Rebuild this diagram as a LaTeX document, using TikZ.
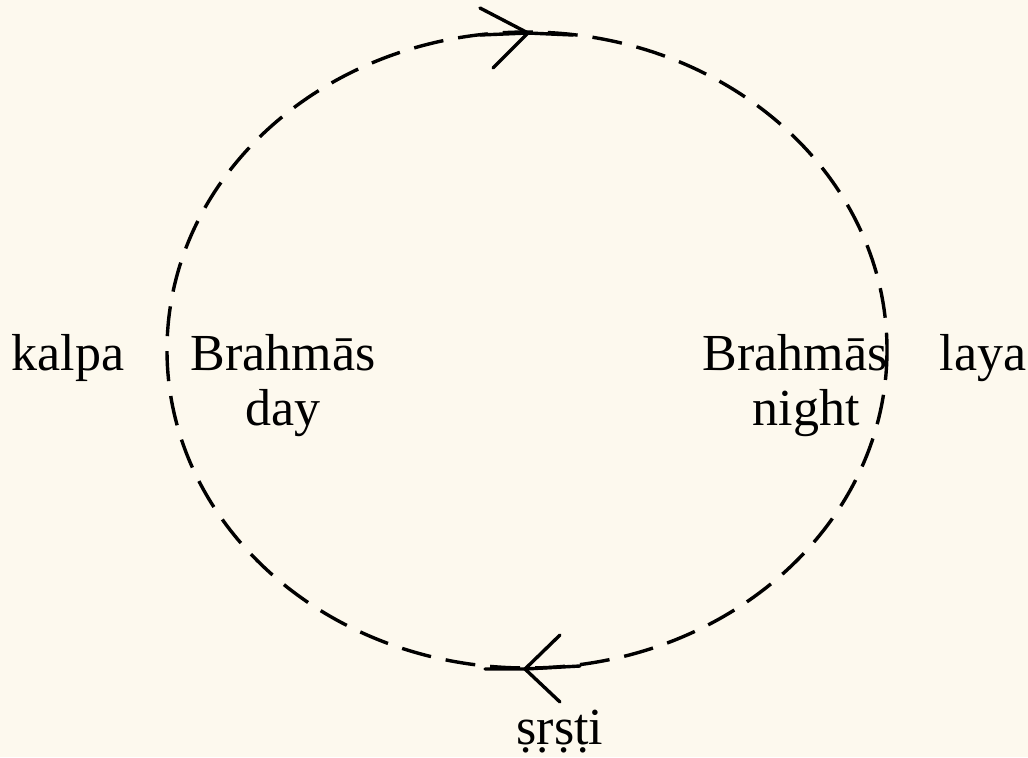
\documentclass[tikz,border=0pt]{standalone}
\usepackage{fontspec}
\setmainfont{Liberation Serif}
\definecolor{bg}{RGB}{253,249,238}
\tikzset{
  lbl/.style={inner sep=0pt, anchor=base, font=\fontsize{26}{31}\selectfont},
  ring/.style={line width=1.7pt, dash pattern=on 15pt off 7.5pt},
  head/.style={line width=1.7pt, line cap=round, line join=miter},
}
\begin{document}
\begin{tikzpicture}[x=0.5pt,y=-0.5pt]
  \fill[bg] (0,0) rectangle (1028,757);
  \useasboundingbox (0,0) rectangle (1028,757);
  % cycle
  \draw[ring] (527,350) ellipse [x radius=360, y radius=318];
  % top arrow (pointing right)
  \coordinate (t) at (528,33);
  \draw[head] (480,35) -- (t);
  \draw[head] (t) -- (573,35);
  \draw[head] (480,8) -- (t) -- (493,68);
  % bottom arrow (pointing left)
  \coordinate (b) at (525,669);
  \draw[head] (485,669) -- (b) -- (580,666);
  \draw[head] (560,635) -- (b) -- (560,702);
  % labels
  \node[lbl] (kalpa) at (68,370) {kalpa};
  \node[lbl] (bd1) at (283,370) {Brahmās};
  \node[lbl] (bd2) at (283,425) {day};
  \node[lbl] (bn1) at (795,370) {Brahmās};
  \node[lbl] (bn2) at (806,425) {night};
  \node[lbl] (laya) at (983,370) {laya};
  \node[lbl] (srsti) at (560,744) {\d{s}\d{r}\d{s}\d{t}i};
\end{tikzpicture}
\end{document}
